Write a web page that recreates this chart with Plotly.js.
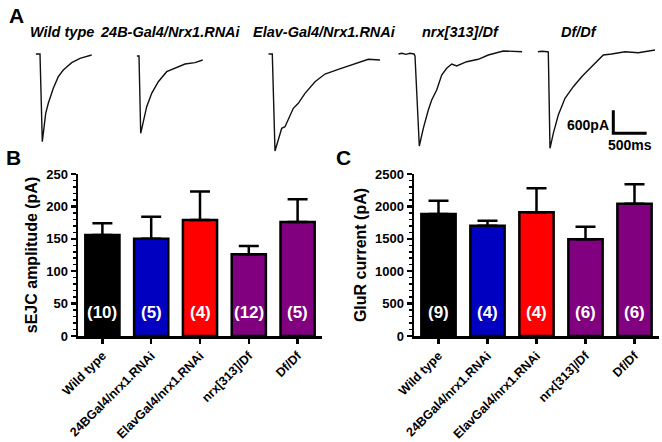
<!DOCTYPE html>
<html><head><meta charset="utf-8">
<script src="https://cdn.plot.ly/plotly-3.0.1.min.js"></script>
<style>html,body{margin:0;padding:0;background:#fff}#chart{width:662px;height:442px}</style>
</head><body><div id="chart"></div>
<script>
// ---- Bar data (panels B and C) ----
const genotypes = ['Wild type','24BGal4/nrx1.RNAi','ElavGal4/nrx1.RNAi','nrx[313]/Df','Df/Df'];
const barColors = ['#000000','#0000C0','#FF0000','#800080','#800080'];
const sejcMean = [156,150,179,126,176];
const sejcSem  = [18,34,44,13,35];
const sejcN    = [10,5,4,12,5];
const glurMean = [1883,1702,1909,1492,2042];
const glurSem  = [205,78,370,195,299];
const glurN    = [9,4,4,6,6];

// ---- Example current traces (panel A), time in ms, current in pA ----
const traceTitles = ['Wild type','24B-Gal4/Nrx1.RNAi','Elav-Gal4/Nrx1.RNAi','nrx[313]/Df','Df/Df'];
const wtTime     = [0,64.5,99,150,189,264,339,414,540,664.5,840];
const wtCurrent  = [0,0,-2280,-1542,-1282,-892,-590,-416,-226,-112,-26];
const b24Time    = [0,34.5,60,99,150,225,324,450,574.5,724.5,874.5,990];
const b24Current = [0,0,-2010,-1708,-1318,-970,-668,-408,-320,-208,-174,-104];
const elavTime   = [0,60,100.5,150,201,250.5,300,375,450,550.5,700.5,850.5,1050,1300.5,1500,1675.5];
const elavCurrent= [0,0,-2522,-2236,-1932,-1890,-1716,-1412,-1282,-1022,-720,-520,-398,-260,-138,-156];
const nrxTime    = [0,55.5,115.5,175.5,235.5,250.5,315,375,450,501,576,651,726,801,876,1026,1200,1350,1575,1725,1860];
const nrxCurrent = [0,18,-8,18,0,-52,-2392,-1932,-1456,-1196,-936,-546,-372,-260,-312,-200,-138,-26,78,78,60];
const dfTime     = [0,64.5,150,159,184.5,234,309,409.5,534,660,759,859.5,984,1110,1309.5,1509,1759.5];
const dfCurrent  = [0,13,0,-8,-2512,-2122,-1646,-1212,-910,-650,-476,-302,-86,-60,0,-26,44];
const scaleBarCurrent = 600; // pA
const scaleBarTime = 500;    // ms

// ---- layout helpers ----
const W = 662, H = 442;
const px = v => v / W, py = v => 1 - v / H;
const FONT = 'Liberation Sans, Arial, sans-serif';

const data = [];
const annotations = [];

// Bars
function addBars(mean, sem, n, xa, ya) {
  data.push({
    type: 'bar', x: genotypes, y: mean, xaxis: xa, yaxis: ya,
    marker: {color: barColors, line: {color: '#000', width: 2.5}},
    error_y: {type: 'data', symmetric: false, array: sem, arrayminus: sem.map(() => 0),
              color: '#000', thickness: 2.5, width: 10},
    hoverinfo: 'none', showlegend: false
  });
  genotypes.forEach((g, i) => annotations.push({
    xref: xa, yref: ya, x: g, y: 0, yanchor: 'bottom', yshift: 12, showarrow: false,
    text: '(' + n[i] + ')', font: {family: FONT, size: 17, color: '#fff', weight: 'bold'}
  }));
}
addBars(sejcMean, sejcSem, sejcN, 'x', 'y');
addBars(glurMean, glurSem, glurN, 'x2', 'y2');

// Traces
const traceSets = [[wtTime, wtCurrent],[b24Time,b24Current],[elavTime,elavCurrent],[nrxTime,nrxCurrent],[dfTime,dfCurrent]];
const traceStartPx = [35.7,136.7,268.3,398.3,537.7];
const traceBasePx = [54,56,54,54,51.7];
const traceTitleX = [61.5,170,324.5,460.5,579.5];
const msPerPx = 15, pAPerPx = 26, traceWidthPx = 124, traceTop = 40, traceBottom = 160;
const layoutAxes = {};
traceSets.forEach((s, i) => {
  const k = i + 3;
  data.push({type: 'scatter', mode: 'lines', x: s[0], y: s[1], xaxis: 'x' + k, yaxis: 'y' + k,
             line: {color: '#111', width: 1.4}, hoverinfo: 'none', showlegend: false});
  layoutAxes['xaxis' + k] = {domain: [px(traceStartPx[i]), px(traceStartPx[i] + traceWidthPx)],
    range: [0, traceWidthPx * msPerPx], visible: false, anchor: 'y' + k, fixedrange: true};
  layoutAxes['yaxis' + k] = {domain: [py(traceBottom), py(traceTop)],
    range: [-(traceBottom - traceBasePx[i]) * pAPerPx, (traceBasePx[i] - traceTop) * pAPerPx],
    visible: false, anchor: 'x' + k, fixedrange: true};
  annotations.push({xref: 'paper', yref: 'paper', x: px(traceTitleX[i]), y: py(32), showarrow: false,
    xanchor: 'center', yanchor: 'middle', text: traceTitles[i],
    font: {family: FONT, size: 14.5, color: '#000', weight: 'bold', style: 'italic'}});
});
// Scale bar (in Df/Df trace axes)
const sbT = 1134, sbI = -2122;
data.push({type: 'scatter', mode: 'lines', xaxis: 'x7', yaxis: 'y7',
  x: [sbT, sbT, sbT + scaleBarTime], y: [sbI + scaleBarCurrent, sbI, sbI],
  line: {color: '#000', width: 3}, hoverinfo: 'none', showlegend: false});
annotations.push({xref: 'x7', yref: 'y7', x: sbT - 40, y: sbI + 0.36 * scaleBarCurrent, xanchor: 'right',
  yanchor: 'middle', showarrow: false, text: scaleBarCurrent + 'pA',
  font: {family: FONT, size: 14, color: '#000', weight: 'bold'}});
annotations.push({xref: 'x7', yref: 'y7', x: sbT + scaleBarTime / 2, y: sbI, xanchor: 'center',
  yanchor: 'top', yshift: -2, showarrow: false, text: scaleBarTime + 'ms',
  font: {family: FONT, size: 14, color: '#000', weight: 'bold'}});

// Panel letters
[['A', 16, 16], ['B', 13, 157], ['C', 343, 157]].forEach(l => annotations.push({
  xref: 'paper', yref: 'paper', x: px(l[1]), y: py(l[2]), xanchor: 'center', yanchor: 'middle',
  showarrow: false, text: l[0], font: {family: FONT, size: 21, color: '#000', weight: 'bold'}}));

const tickFont = {family: FONT, size: 13, color: '#000', weight: 'bold'};
function xAxis(dom, anchor) {
  return {domain: dom, anchor: anchor, type: 'category', range: [-0.5, 4.5], showline: true,
    linecolor: '#000', linewidth: 2.5, ticks: 'outside', ticklen: 5, tickwidth: 2.5, tickcolor: '#000',
    tickangle: -45, tickfont: Object.assign({}, tickFont, {size: 12.5}), showgrid: false, zeroline: false, fixedrange: true};
}
function yAxis(dom, anchor, rng, dt, mdt, title) {
  return {domain: dom, anchor: anchor, range: rng, dtick: dt, tick0: 0, showline: true,
    linecolor: '#000', linewidth: 2.5, ticks: 'outside', ticklen: 5, tickwidth: 2.5, tickcolor: '#000',
    minor: {dtick: mdt, ticks: 'outside', ticklen: 3, tickwidth: 1.5, tickcolor: '#000', showgrid: false},
    tickfont: tickFont, showgrid: false, zeroline: false, fixedrange: true,
    title: {text: title, standoff: 5, font: {family: FONT, size: 16, color: '#000', weight: 'bold'}}};
}

const layout = Object.assign({
  width: W, height: H, margin: {l: 0, r: 0, t: 0, b: 0},
  paper_bgcolor: '#fff', plot_bgcolor: '#fff', showlegend: false, hovermode: false,
  bargap: 0.3,
  xaxis: xAxis([px(78), px(322)], 'y'),
  yaxis: yAxis([py(336), py(174)], 'x', [0, 250], 50, 10, 'sEJC amplitude (pA)'),
  xaxis2: xAxis([px(414), px(659)], 'y2'),
  yaxis2: yAxis([py(336), py(174)], 'x2', [0, 2500], 500, 100, 'GluR current (pA)'),
  annotations: annotations
}, layoutAxes);

Plotly.newPlot('chart', data, layout, {staticPlot: true, displayModeBar: false});
</script></body></html>
